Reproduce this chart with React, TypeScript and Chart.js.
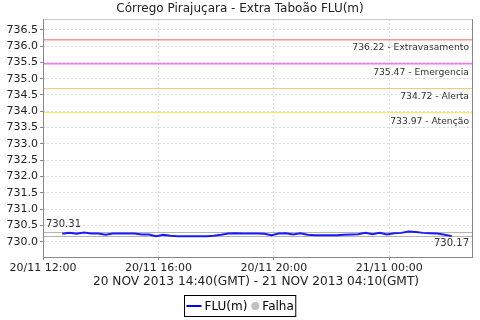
import React, { useEffect, useRef } from "react";
import { Chart, registerables } from "chart.js";
Chart.register(...registerables);

const titleText = "Córrego Pirajuçara - Extra Taboão FLU(m)";
const xAxisTitle = "20 NOV 2013 14:40(GMT) - 21 NOV 2013 04:10(GMT)";
const xTickHours = [0, 4, 8, 12];
const xTickLabels = ["20/11 12:00", "20/11 16:00", "20/11 20:00", "21/11 00:00"];
const xMinHour = 0;
const xMaxHour = 14.9;
const yMin = 729.53;
const yMax = 736.83;
const firstHour = 0.6667; // 20/11 12:40
const stepHours = 0.25; // one reading each 15 min
const fluValues = [
  730.24, 730.27, 730.24, 730.28, 730.25, 730.25, 730.21, 730.25, 730.25, 730.25,
  730.25, 730.22, 730.22, 730.17, 730.21, 730.18, 730.17, 730.17, 730.17, 730.17,
  730.17, 730.18, 730.21, 730.25, 730.26, 730.25, 730.25, 730.25, 730.24, 730.2,
  730.25, 730.26, 730.22, 730.26, 730.21, 730.2, 730.2, 730.2, 730.2, 730.21,
  730.22, 730.23, 730.27, 730.23, 730.27, 730.22, 730.26, 730.27, 730.31, 730.3,
  730.27, 730.26, 730.25, 730.21, 730.17,
];
const thresholdValues = [736.22, 735.47, 734.72, 733.97];
const thresholdNames = ["Extravasamento", "Emergencia", "Alerta", "Atenção"];
const thresholdColors = ["rgb(244,150,150)", "rgb(255,110,255)", "rgb(255,200,120)", "rgb(255,236,80)"];
const maxValue = 730.31;
const minValue = 730.17;
const legendLabels = ["FLU(m)", "Falha"];

const FONT = "'DejaVu Sans', sans-serif";

const overlayPlugin = {
  id: "overlay",
  beforeDatasetsDraw(chart: any) {
    const { ctx, chartArea, scales } = chart;
    const y = scales.y;
    ctx.save();
    const w = chartArea.right - chartArea.left - 1;
    [maxValue, minValue].forEach((v) => {
      const py = Math.round(y.getPixelForValue(v));
      ctx.fillStyle = "#b4b4b4";
      ctx.fillRect(chartArea.left + 1, py, w, 1);
    });
    thresholdValues.forEach((v, i) => {
      const py = Math.round(y.getPixelForValue(v));
      ctx.fillStyle = thresholdColors[i];
      ctx.fillRect(chartArea.left + 1, py, w, i < 2 ? 1.5 : 1);
    });
    ctx.restore();
  },
  afterDatasetsDraw(chart: any) {
    const { ctx, chartArea, scales } = chart;
    const y = scales.y;
    ctx.save();
    ctx.setLineDash([]);
    ctx.font = "9.2px " + FONT;
    ctx.fillStyle = "#333";
    ctx.textAlign = "right";
    ctx.textBaseline = "middle";
    thresholdValues.forEach((v, i) => {
      const py = y.getPixelForValue(v);
      ctx.fillText(v.toFixed(2) + " - " + thresholdNames[i], chartArea.right - 4, py + 9);
    });
    ctx.font = "10px " + FONT;
    ctx.textAlign = "left";
    ctx.fillText(maxValue.toFixed(2), chartArea.left + 3, y.getPixelForValue(maxValue) - 7);
    ctx.textAlign = "right";
    ctx.fillText(minValue.toFixed(2), chartArea.right - 4, y.getPixelForValue(minValue) + 7);

    // plot outline
    ctx.strokeStyle = "#c8c8c8";
    ctx.lineWidth = 1;
    ctx.strokeRect(chartArea.left + 0.5, chartArea.top + 0.5, chartArea.right - chartArea.left - 1, chartArea.bottom - chartArea.top);
    ctx.strokeStyle = "#888";
    ctx.beginPath();
    ctx.moveTo(chartArea.left + 0.5, chartArea.top);
    ctx.lineTo(chartArea.left + 0.5, chartArea.bottom + 0.5);
    ctx.lineTo(chartArea.right, chartArea.bottom + 0.5);
    ctx.moveTo(chartArea.right - 0.5, chartArea.top);
    ctx.lineTo(chartArea.right - 0.5, chartArea.bottom);
    ctx.stroke();
    ctx.restore();
  },
  afterDraw(chart: any) {
    const { ctx } = chart;
    ctx.save();
    ctx.setLineDash([]);
    ctx.fillStyle = "#222";
    ctx.textAlign = "center";
    ctx.textBaseline = "middle";
    ctx.font = "12px " + FONT;
    ctx.fillText(titleText, 240, 9);
    ctx.font = "12.2px " + FONT;
    ctx.fillText(xAxisTitle, 256, 282);

    // legend
    ctx.font = "12px " + FONT;
    const w1 = ctx.measureText(legendLabels[0]).width;
    const w2 = ctx.measureText(legendLabels[1]).width;
    const total = 2 + 15 + 3 + w1 + 4 + 8 + 3 + w2 + 2;
    const lx = Math.round(240 - total / 2) + 0.5;
    const ly = 295.5;
    const lh = 21;
    ctx.strokeStyle = "#000";
    ctx.lineWidth = 1;
    ctx.strokeRect(lx, ly, total, lh);
    let cx = lx + 2;
    ctx.strokeStyle = "#0000ff";
    ctx.lineWidth = 2;
    ctx.beginPath();
    ctx.moveTo(cx, ly + lh / 2);
    ctx.lineTo(cx + 15, ly + lh / 2);
    ctx.stroke();
    cx += 18;
    ctx.textAlign = "left";
    ctx.fillStyle = "#000";
    ctx.fillText(legendLabels[0], cx, ly + lh / 2 + 1);
    cx += w1 + 4;
    ctx.fillStyle = "#c0c0c0";
    ctx.beginPath();
    ctx.arc(cx + 4, ly + lh / 2, 4, 0, Math.PI * 2);
    ctx.fill();
    cx += 11;
    ctx.fillStyle = "#000";
    ctx.fillText(legendLabels[1], cx, ly + lh / 2 + 1);
    ctx.restore();
  },
};

export default function App() {
  const ref = useRef<HTMLCanvasElement>(null);
  useEffect(() => {
    if (!ref.current) return;
    const points = fluValues.map((v, i) => ({ x: firstHour + i * stepHours, y: v }));
    const chart = new Chart(ref.current, {
      type: "line",
      data: {
        datasets: [
          {
            label: legendLabels[0],
            data: points,
            borderColor: "#1a1aff",
            borderWidth: 2,
            pointRadius: 0,
            tension: 0,
          },
        ],
      },
      options: {
        animation: false,
        responsive: false,
        devicePixelRatio: 1,
        layout: { padding: { top: 19, right: 7, left: 0, bottom: 0 } },
        plugins: { legend: { display: false }, tooltip: { enabled: false }, title: { display: false } },
        scales: {
          x: {
            type: "linear",
            min: xMinHour,
            max: xMaxHour,
            afterFit(scale: any) {
              scale.height = 63;
            },
            afterBuildTicks(scale: any) {
              scale.ticks = xTickHours.map((v) => ({ value: v }));
            },
            ticks: {
              autoSkip: false,
              maxRotation: 0,
              padding: 2,
              color: "#222",
              font: { family: FONT, size: 11 },
              callback(value: any) {
                const idx = xTickHours.indexOf(Number(value));
                return idx >= 0 ? xTickLabels[idx] : "";
              },
            },
            grid: { color: "#dcdcdc", tickColor: "#888", tickLength: 3, lineWidth: 1, tickBorderDash: [] },
            border: { display: false, dash: [2, 2] },
          },
          y: {
            min: yMin,
            max: yMax,
            afterFit(scale: any) {
              scale.width = 43;
            },
            afterBuildTicks(scale: any) {
              const t = [];
              for (let v = 730; v <= 736.5 + 1e-6; v += 0.5) t.push({ value: v });
              scale.ticks = t;
            },
            ticks: {
              padding: 2,
              color: "#222",
              font: { family: FONT, size: 11 },
              callback(value: any) {
                return Number(value).toFixed(1);
              },
            },
            grid: { color: "#dcdcdc", tickColor: "#888", tickLength: 3, lineWidth: 1, tickBorderDash: [] },
            border: { display: false, dash: [2, 2] },
          },
        },
      } as any,
      plugins: [overlayPlugin],
    });
    return () => chart.destroy();
  }, []);
  return (
    <div style={{ position: "fixed", left: 0, top: 0, width: 480, height: 320, background: "#fff" }}>
      <canvas ref={ref} width={480} height={320} style={{ width: 480, height: 320 }} />
    </div>
  );
}
